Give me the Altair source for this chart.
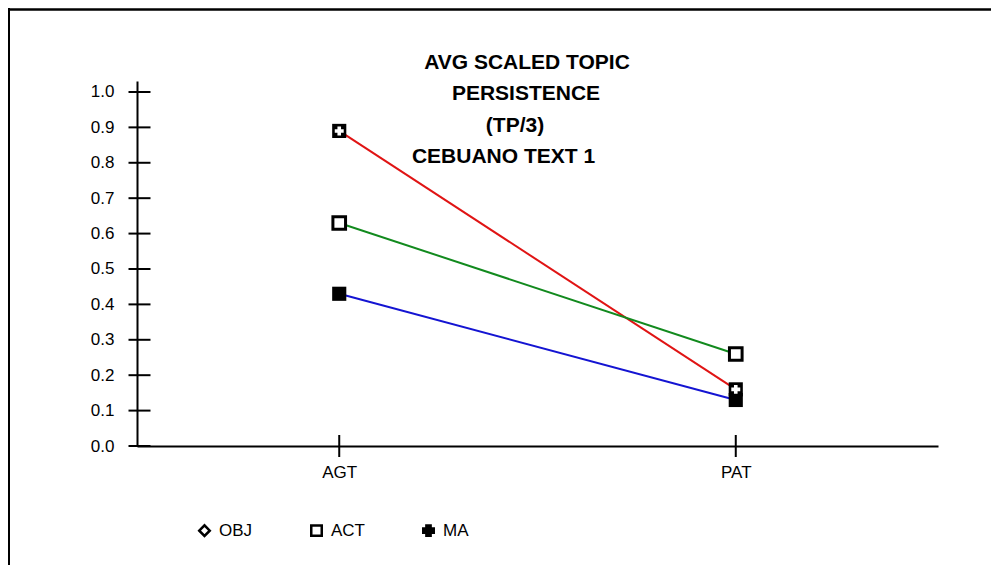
import altair as alt
import pandas as pd

# ---- data ----
CATEGORIES = ["AGT", "PAT"]
SERIES = ["OBJ", "ACT", "MA"]
OBJ_VALUES = [0.89, 0.16]
ACT_VALUES = [0.63, 0.26]
MA_VALUES = [0.43, 0.13]
Y_TICKS = [0.0, 0.1, 0.2, 0.3, 0.4, 0.5, 0.6, 0.7, 0.8, 0.9, 1.0]
TITLE_LINES = ["AVG SCALED TOPIC", "PERSISTENCE", "(TP/3)", "CEBUANO TEXT 1"]
LINE_COLORS = ["#e01414", "#128a1e", "#1414d2"]

rows = []
for s, vals in zip(SERIES, [OBJ_VALUES, ACT_VALUES, MA_VALUES]):
    for c, v in zip(CATEGORIES, vals):
        rows.append({"series": s, "cat": c, "value": v})
df = pd.DataFrame(rows)
ytick_df = pd.DataFrame({"value": Y_TICKS})
xtick_df = pd.DataFrame({"cat": CATEGORIES})
one = pd.DataFrame({"k": [0]})

W, H = 801, 365
FONT = "Liberation Sans"

x_scale = alt.Scale(type="point", domain=CATEGORIES, padding=0.51)
y_scale = alt.Scale(domain=[0, 1.031], nice=False, zero=True)
x_axis = alt.Axis(title=None, labelAngle=0, ticks=False, grid=False,
                  domainColor="black", domainWidth=2, labelFontSize=17,
                  labelPadding=18, labelColor="black", labelFont=FONT)
y_axis = alt.Axis(title=None, values=Y_TICKS, format=".1f", ticks=False, grid=False,
                  domainColor="black", domainWidth=2, labelFontSize=17,
                  labelPadding=23, labelColor="black", labelFont=FONT)

X = alt.X("cat:N", scale=x_scale, axis=x_axis)
Y = alt.Y("value:Q", scale=y_scale, axis=y_axis)

# one line per series, each in its own colour
lines = [
    alt.Chart(df).transform_filter(alt.datum.series == s).mark_line(strokeWidth=2, color=c).encode(x=X, y=Y)
    for s, c in zip(SERIES, LINE_COLORS)
]

# axis tick crosses (ticks that straddle the axis lines)
ytick_rules = alt.Chart(ytick_df).mark_rule(color="black", strokeWidth=2).encode(
    y=Y, x=alt.value(-8.5), x2=alt.value(13.5)
)
xtick_rules = alt.Chart(xtick_df).mark_rule(color="black", strokeWidth=2).encode(
    x=X, y=alt.value(H - 11), y2=alt.value(H + 11)
)

solid = alt.Chart(df).transform_filter(
    alt.FieldOneOfPredicate(field="series", oneOf=["OBJ", "MA"])
).mark_square(color="black", size=200, opacity=1).encode(x=X, y=Y)

act = alt.Chart(df).transform_filter(alt.datum.series == "ACT").mark_point(
    shape="square", filled=True, fill="white", stroke="black", strokeWidth=3, size=160, opacity=1
).encode(x=X, y=Y)

obj_cross = alt.Chart(df).transform_filter(alt.datum.series == "OBJ").mark_point(
    shape="cross", filled=True, color="white", size=80, opacity=1
).encode(x=X, y=Y)

leg = alt.Legend(title=None, orient="none", legendX=59, legendY=441, direction="horizontal",
                 columnPadding=53, labelOffset=6, labelFontSize=17, labelFont=FONT,
                 labelColor="black", symbolSize=110, symbolStrokeWidth=2.5,
                 symbolStrokeColor="black", symbolOpacity=1)
legend_layer = alt.Chart(df).mark_point(
    filled=True, strokeWidth=2.5, size=0
).encode(
    x=X, y=Y,
    shape=alt.Shape("series:N", scale=alt.Scale(domain=SERIES, range=["diamond", "square", "cross"]), legend=leg),
    fill=alt.Fill("series:N", scale=alt.Scale(domain=SERIES, range=["white", "white", "black"]), legend=leg),
    stroke=alt.Stroke("series:N", scale=alt.Scale(domain=SERIES, range=["black", "black", "black"]), legend=leg),
)

# title lines (individually placed, as in the reference)
title_pos = [(390, -18), (389, 13), (378, 45), (366.5, 76)]
titles = [
    alt.Chart(one).mark_text(text=t, font=FONT, fontSize=21, fontWeight="bold",
                             color="black", align="center", baseline="middle").encode(
        x=alt.value(px), y=alt.value(py))
    for t, (px, py) in zip(TITLE_LINES, title_pos)
]

# frame (top and left edges)
frame_top = alt.Chart(one).mark_rule(color="black", strokeWidth=2.5).encode(
    x=alt.value(-129), x2=alt.value(W + 53), y=alt.value(-71.5))
frame_left = alt.Chart(one).mark_rule(color="black", strokeWidth=2).encode(
    x=alt.value(-128), y=alt.value(-73), y2=alt.value(H + 119))

chart = alt.layer(
    frame_top, frame_left, *lines, ytick_rules, xtick_rules, solid, act, obj_cross, legend_layer, *titles
).properties(
    width=W, height=H,
    autosize=alt.AutoSizeParams(type="none"),
    padding={"left": 129, "top": 73, "right": 53, "bottom": 119},
).configure(font=FONT).configure_view(stroke=None)

chart.save("out.html", embed_options={"renderer": "svg", "actions": False})
